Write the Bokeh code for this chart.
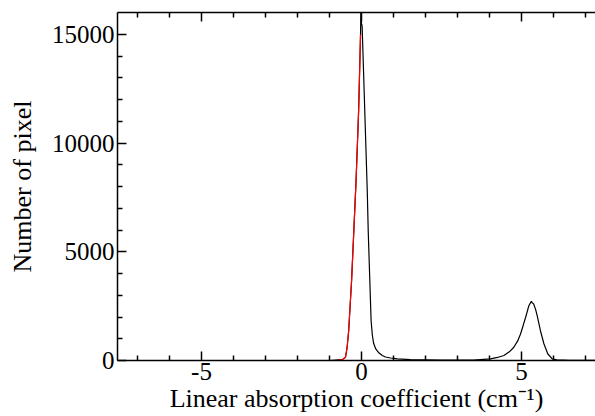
from bokeh.plotting import figure
from bokeh.models import Range1d, FixedTicker, LinearAxis, CustomJSTickFormatter
from bokeh.embed import file_html
from bokeh.resources import INLINE

# ---- data ----
black_x = [-7.625, -1.0, -0.60, -0.50, -0.45, -0.40, -0.31, -0.24, -0.17, -0.09, -0.03,
           -0.02, 0.00, 0.02, 0.18, 0.21, 0.26, 0.30, 0.34, 0.38, 0.45, 0.53, 0.65, 0.75, 0.91,
           1.12, 1.53, 2.5, 3.5, 4.03, 4.25, 4.45, 4.62, 4.76, 4.88, 4.97, 5.05, 5.13, 5.23,
           5.28, 5.31, 5.34, 5.38, 5.44, 5.49, 5.59, 5.70, 5.82, 5.96, 6.10, 6.5, 7.4]
black_y = [0, 0, 40, 150, 600, 1380, 3670, 5960, 8260, 11470, 14990,
           16100, 15500, 15370, 7800, 5960, 3670, 1830, 1150, 780, 520, 370, 230, 160, 115,
           78, 40, 15, 20, 78, 140, 230, 400, 610, 900, 1220, 1600, 1990, 2520,
           2650, 2720, 2650, 2600, 2350, 2060, 1380, 770, 310, 78, 30, 10, 5]

red_x = [-7.625, -0.8, -0.60, -0.50, -0.45, -0.40, -0.31, -0.24, -0.17, -0.09, -0.03]
red_y = [0, 0, 40, 150, 600, 1380, 3670, 5960, 8260, 11470, 14990]

x_major = [-5, 0, 5]
x_minor = [-7, -6, -4, -3, -2, -1, 1, 2, 3, 4, 6, 7]
y_major = [0, 5000, 10000, 15000]
y_minor = [1000, 2000, 3000, 4000, 6000, 7000, 8000, 9000, 11000, 12000, 13000, 14000]

x_label = "Linear absorption coefficient (cm\u207b\u00b9)"
y_label = "Number of pixel"

FONT = "Liberation Serif"

p = figure(width=595, height=416,
           x_range=Range1d(-7.625, 7.3125), y_range=Range1d(0, 16000),
           output_backend="svg", toolbar_location=None,
           min_border_left=117, min_border_right=0, min_border_top=12, min_border_bottom=56)

p.grid.visible = False
p.background_fill_color = "white"
p.border_fill_color = "white"
p.outline_line_color = None

p.line(black_x, black_y, line_color="black", line_width=1.2)
p.line(red_x, red_y, line_color="red", line_width=1.2)

xt = FixedTicker(ticks=x_major, minor_ticks=x_minor)
yt = FixedTicker(ticks=y_major, minor_ticks=y_minor)


def style(ax, labels=True):
    ax.axis_line_color = "black"
    ax.axis_line_width = 1.5
    ax.major_tick_in = 9
    ax.major_tick_out = 0
    ax.minor_tick_in = 5
    ax.minor_tick_out = 0
    ax.major_tick_line_width = 1.5
    ax.minor_tick_line_width = 1.5
    ax.major_tick_line_color = "black"
    ax.minor_tick_line_color = "black"
    if labels:
        ax.major_label_text_font = FONT
        ax.major_label_text_font_size = "25px"
        ax.major_label_text_color = "black"
        ax.major_label_standoff = 3
        ax.axis_label_text_font = FONT
        ax.axis_label_text_font_size = "26px"
        ax.axis_label_text_font_style = "normal"
        ax.axis_label_text_color = "black"
    else:
        ax.formatter = CustomJSTickFormatter(code="return ''")
        ax.major_label_text_font_size = "2px"
        ax.major_label_standoff = 0


p.xaxis.ticker = xt
p.yaxis.ticker = yt
style(p.xaxis[0])
style(p.yaxis[0])
p.xaxis[0].major_label_standoff = 2
p.xaxis[0].major_label_overrides = {-5: "-5", 0: "0", 5: "5"}
p.xaxis[0].axis_label = x_label
p.xaxis[0].axis_label_standoff = 1
p.yaxis[0].axis_label = y_label
p.yaxis[0].axis_label_standoff = 12

top = LinearAxis(ticker=xt)
style(top, labels=False)
p.add_layout(top, "above")

open("out.html", "w").write(file_html(p, INLINE))
